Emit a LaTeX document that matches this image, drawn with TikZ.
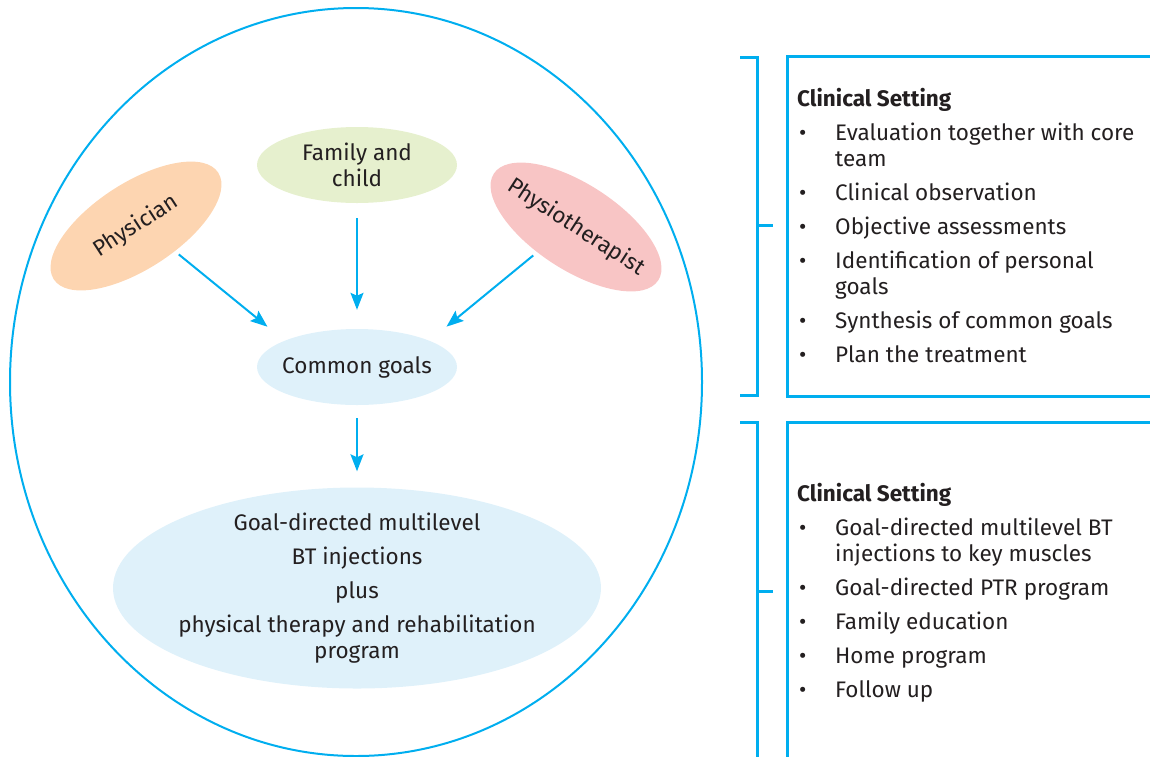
\documentclass[tikz,border=0pt]{standalone}
\usepackage{fontspec}
\setmainfont{Fira Sans}
\usetikzlibrary{shapes.geometric, arrows.meta, positioning}
\definecolor{skyblue}{HTML}{00AEEF}
\definecolor{peach}{HTML}{FDD5B1}
\definecolor{leafgreen}{HTML}{E6F0CE}
\definecolor{rosepink}{HTML}{F8C5C5}
\definecolor{paleblue}{HTML}{DFF1FA}
\definecolor{inkgray}{HTML}{231F20}
\newcommand{\bul}{\makebox[38pt][l]{\hspace{2pt}\textbullet}}
\newcommand{\ind}{\hspace*{38pt}}

\begin{document}
\begin{tikzpicture}[
    x=1pt, y=-1pt,
    every node/.style={text=inkgray, font=\fontsize{22.5}{26}\selectfont},
    bubble/.style={ellipse, inner sep=-15pt, align=center, minimum width=200pt, minimum height=76pt},
    tilted/.style={bubble, minimum width=196pt, minimum height=86pt},
    arrow/.style={-{Stealth[length=17pt, width=13pt, inset=3pt]}, line width=2pt, skyblue},
    bracket/.style={line width=3pt, skyblue},
    panel/.style={line width=3pt, draw=skyblue},
    listing/.style={anchor=north west, align=left, inner sep=0pt},
]
    \clip (0,0) rectangle (1150,756);
    % team circle
    \draw[skyblue, line width=2pt] (356,382) ellipse [x radius=346, y radius=374];

    \node[bubble, fill=leafgreen] (family) at (357,165) {Family and\\child};
    \node[tilted, fill=peach, rotate=33] (physician) at (136,226) {Physician};
    \node[tilted, fill=rosepink, rotate=-33] (physio) at (576,227) {Physiotherapist};
    \node[bubble, fill=paleblue] (goals) at (357,367) {Common goals};
    \node[bubble, fill=paleblue, minimum width=488pt, minimum height=201pt] (plan) at (357,588) {
        Goal-directed multilevel\\[8pt]
        BT injections\\[8pt]
        plus\\[8pt]
        physical therapy and rehabilitation\\
        program
    };

    \draw[arrow, shorten <=5pt, shorten >=22pt] (physician.-66) -- (goals.160);
    \draw[arrow, shorten <=5pt, shorten >=22pt] (physio.-114) -- (goals.20);
    \draw[arrow, shorten <=15pt, shorten >=19pt] (family) -- (goals);
    \draw[arrow, shorten <=13pt, shorten >=16pt] (goals) -- (plan);

    % assessment phase
    \draw[bracket] (740,57) -| (757,395) -- (740,395);
    \draw[bracket] (757,225) -- (773,225);
    \draw[panel] (787,56) rectangle (1180,396);
    \node[listing] (setting1) at (797,88) {
        \textbf{Clinical Setting}\\[8pt]
        \bul Evaluation together with core\\
        \ind team\\[8pt]
        \bul Clinical observation\\[8pt]
        \bul Objective assessments\\[8pt]
        \bul Identification of personal\\
        \ind goals\\[8pt]
        \bul Synthesis of common goals\\[8pt]
        \bul Plan the treatment
    };

    % treatment phase
    \draw[bracket] (740,422) -| (757,780);
    \draw[bracket] (757,591) -- (773,591);
    \draw[panel] (787,422) rectangle (1180,800);
    \node[listing] (setting2) at (797,483) {
        \textbf{Clinical Setting}\\[8pt]
        \bul Goal-directed multilevel BT\\
        \ind injections to key muscles\\[8pt]
        \bul Goal-directed PTR program\\[8pt]
        \bul Family education\\[8pt]
        \bul Home program\\[8pt]
        \bul Follow up
    };
\end{tikzpicture}
\end{document}
